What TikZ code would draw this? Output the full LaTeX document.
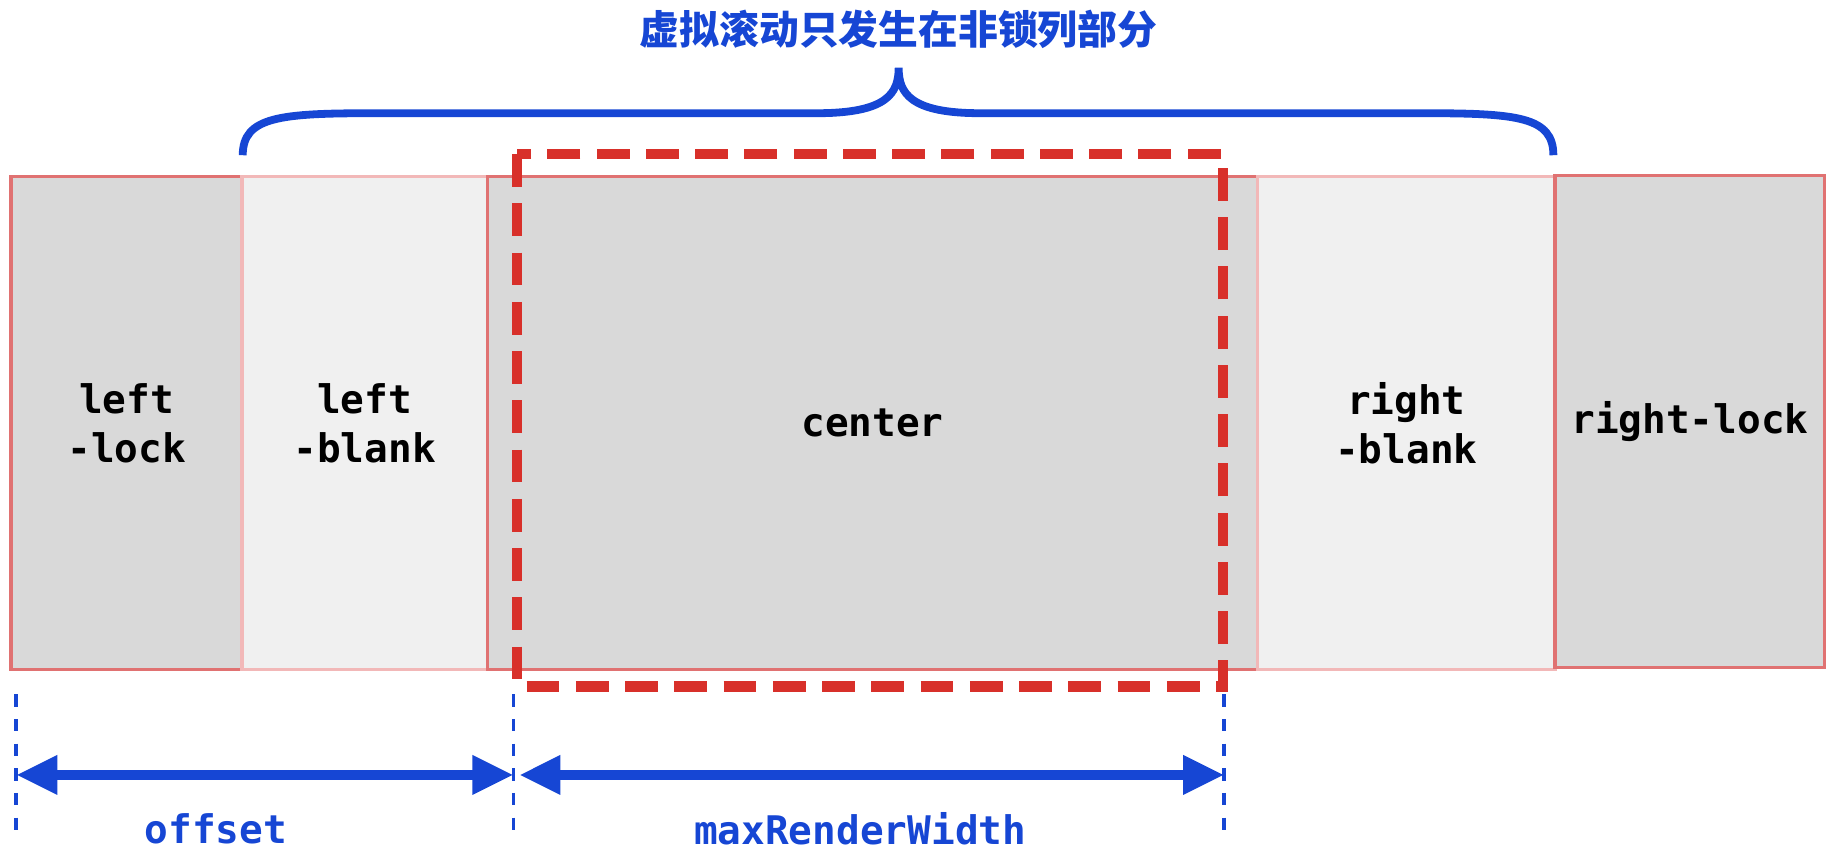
\documentclass[tikz,border=0pt]{standalone}
\usepackage{fontspec}
\setmonofont{DejaVu Sans Mono}
\newfontfamily\cjk{Noto Sans CJK SC}
\usetikzlibrary{arrows.meta, positioning, calc}
\definecolor{lockgray}{HTML}{D9D9D9}
\definecolor{blankgray}{HTML}{F0F0F0}
\definecolor{boxred}{HTML}{E07272}
\definecolor{boxpink}{HTML}{F2B8B8}
\definecolor{dashred}{HTML}{D8302A}
\definecolor{markblue}{HTML}{1646D4}

\begin{document}
\begin{tikzpicture}[x=0.01cm, y=-0.01cm,
    lockbox/.style={draw=boxred, fill=lockgray, line width=0.8pt, anchor=north west, inner sep=0pt, font=\ttfamily\bfseries\fontsize{9.6}{12}\selectfont, align=center},
    blankbox/.style={lockbox, draw=boxpink, fill=blankgray},
    label/.style={font=\ttfamily\bfseries\fontsize{9.6}{12}\selectfont, text=markblue},
    guide/.style={markblue, dashed, line width=0.9pt},
    dim/.style={markblue, line width=2.4pt, {Triangle[length=10pt,width=9pt]}-{Triangle[length=10pt,width=9pt]}}]
    \useasboundingbox (0,0) rectangle (1568,733);
    \node[lockbox, minimum width=1.98cm, minimum height=4.22cm] (llock) at (8,150) {left\\-lock};
    \node[blankbox, minimum width=2.10cm, minimum height=4.22cm] (lblank) at (206,150) {left\\-blank};
    \node[lockbox, minimum width=6.60cm, minimum height=4.22cm] (center) at (416,150) {center};
    \node[blankbox, minimum width=2.55cm, minimum height=4.22cm] (rblank) at (1076,150) {right\\-blank};
    \node[lockbox, minimum width=2.31cm, minimum height=4.21cm] (rlock) at (1331,149) {right-lock};
    % render window
    \draw[dashred, line width=2.6pt, dash pattern=on 8pt off 4pt] (443,132) rectangle (1048,588);
    % brace
    \node[font=\cjk\bfseries\fontsize{9.7}{12}\selectfont, text=markblue] (title) at (770,25) {虚拟滚动只发生在非锁列部分};
    \draw[markblue, line width=1.9pt] (208,133) .. controls (208,100) and (240,97) .. (320,97)
        -- (700,97) .. controls (760,97) and (770,80) .. (770,58)
        .. controls (770,80) and (780,97) .. (840,97) -- (1220,97)
        .. controls (1300,97) and (1331,100) .. (1331,133);
    % dimensions
    \coordinate (g1) at (14,595);
    \coordinate (g2) at (440,595);
    \coordinate (g3) at (1049,595);
    \foreach \g in {g1,g2,g3}
        \draw[guide] (\g) -- ++(0,125);
    \draw[dim] ($(g1)+(0,69)$) -- ($(g2)+(0,69)$);
    \draw[dim] ($(g2)+(5,69)$) -- ($(g3)+(0,69)$);
    \node[label] (off) at (185,710) {offset};
    \node[label] (mrw) at (737,710) {maxRenderWidth};
\end{tikzpicture}
\end{document}
